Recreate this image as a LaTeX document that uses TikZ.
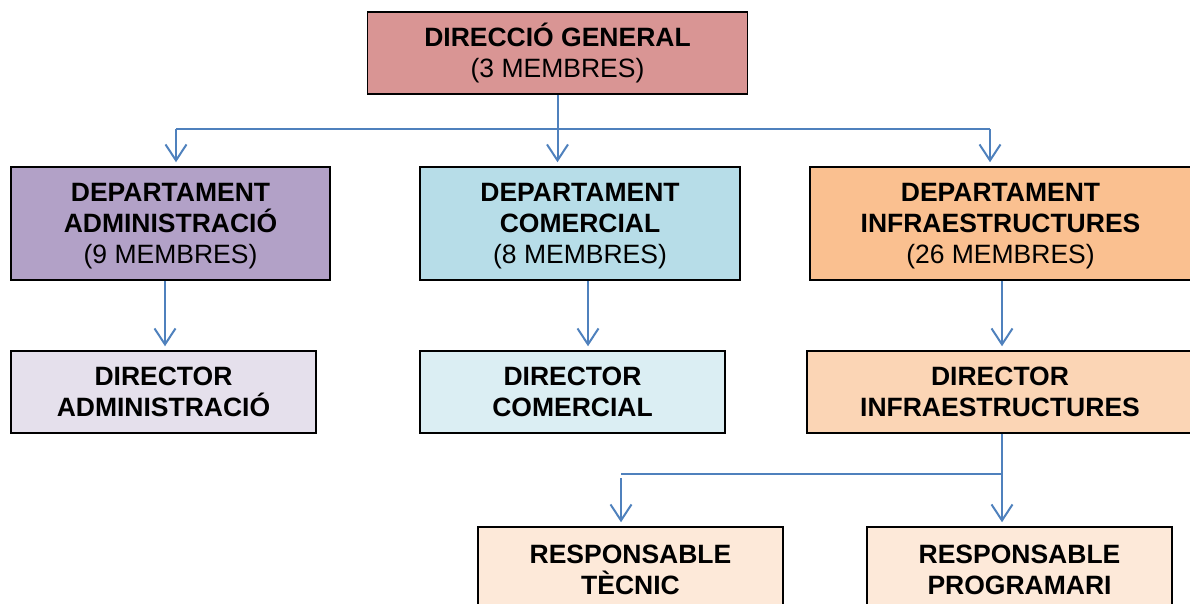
\documentclass[tikz,border=0pt]{standalone}
\usepackage{fontspec}
\setmainfont{Liberation Sans}
\usetikzlibrary{arrows.meta}
\definecolor{cDG}{HTML}{D99594}
\definecolor{cDA}{HTML}{B2A1C7}
\definecolor{cDC}{HTML}{B7DDE8}
\definecolor{cDI}{HTML}{FAC090}
\definecolor{cRA}{HTML}{E5E0EC}
\definecolor{cRC}{HTML}{DBEEF3}
\definecolor{cRI}{HTML}{FBD5B5}
\definecolor{cRR}{HTML}{FDE9D9}
\definecolor{cLine}{HTML}{4F81BD}
\tikzset{
  orgbox/.style={draw=black, line width=1.5pt, rectangle, align=center,
    inner sep=0pt, font=\fontsize{26.5}{31}\selectfont},
  deptbox/.style={orgbox, minimum height=113pt, text depth=0pt},
  link/.style={draw=cLine, line width=2pt},
  arr/.style={link, -{Straight Barb[length=16pt,width=21pt,line width=2pt]}, shorten >=4pt}
}
\begin{document}
\begin{tikzpicture}[x=1pt,y=-1pt]
\useasboundingbox (0,0) rectangle (1190,603);
\clip (0,0) rectangle (1190,603);
% nodes
\node[orgbox, fill=cDG, minimum width=380pt, minimum height=82pt] (dg) at (557.5,53)
  {\textbf{DIRECCIÓ GENERAL}\\(3 MEMBRES)};
\node[deptbox, fill=cDA, minimum width=319pt] (da) at (170.5,223.5)
  {\textbf{DEPARTAMENT}\\\textbf{ADMINISTRACIÓ}\\(9 MEMBRES)};
\node[deptbox, fill=cDC, minimum width=320pt] (dc) at (580,223.5)
  {\textbf{DEPARTAMENT}\\\textbf{COMERCIAL}\\(8 MEMBRES)};
\node[deptbox, fill=cDI, minimum width=381pt] (di) at (1000.5,223.5)
  {\textbf{DEPARTAMENT}\\\textbf{INFRAESTRUCTURES}\\(26 MEMBRES)};
\node[orgbox, fill=cRA, minimum width=305pt, minimum height=82pt] (ra) at (163.5,392)
  {\textbf{DIRECTOR}\\\textbf{ADMINISTRACIÓ}};
\node[orgbox, fill=cRC, minimum width=305pt, minimum height=82pt] (rc) at (572.5,392)
  {\textbf{DIRECTOR}\\\textbf{COMERCIAL}};
\node[orgbox, fill=cRI, minimum width=386pt, minimum height=82pt] (ri) at (1000,392)
  {\textbf{DIRECTOR}\\\textbf{INFRAESTRUCTURES}};
\node[orgbox, fill=cRR, minimum width=305pt, minimum height=85pt] (rt) at (630.5,569.5)
  {\textbf{RESPONSABLE}\\\textbf{TÈCNIC}};
\node[orgbox, fill=cRR, minimum width=305pt, minimum height=85pt] (rp) at (1019.5,569.5)
  {\textbf{RESPONSABLE}\\\textbf{PROGRAMARI}};
% helper coordinates
\coordinate (hL) at (176,129);
\coordinate (hR) at (990,129);
\coordinate (xa) at (165,0);
\coordinate (xc) at (588,0);
\coordinate (xi) at (1002,0);
\coordinate (bL) at (621,474);
\coordinate (bR) at (1002,474);
% connectors
\draw[arr] (dg.south) -- (dg.south |- dc.north);
\draw[link] (hL) -- (hR);
\draw[arr] (hL) -- (hL |- da.north);
\draw[arr] (hR) -- (hR |- di.north);
\draw[arr] (da.south -| xa) -- (xa |- ra.north);
\draw[arr] (dc.south -| xc) -- (xc |- rc.north);
\draw[arr] (di.south -| xi) -- (xi |- ri.north);
\draw[arr] (ri.south -| bR) -- (bR |- rp.north);
\draw[link] (bR) -- (bL);
\draw[arr] ([yshift=-4pt]bL) -- (bL |- rt.north);
\end{tikzpicture}
\end{document}
